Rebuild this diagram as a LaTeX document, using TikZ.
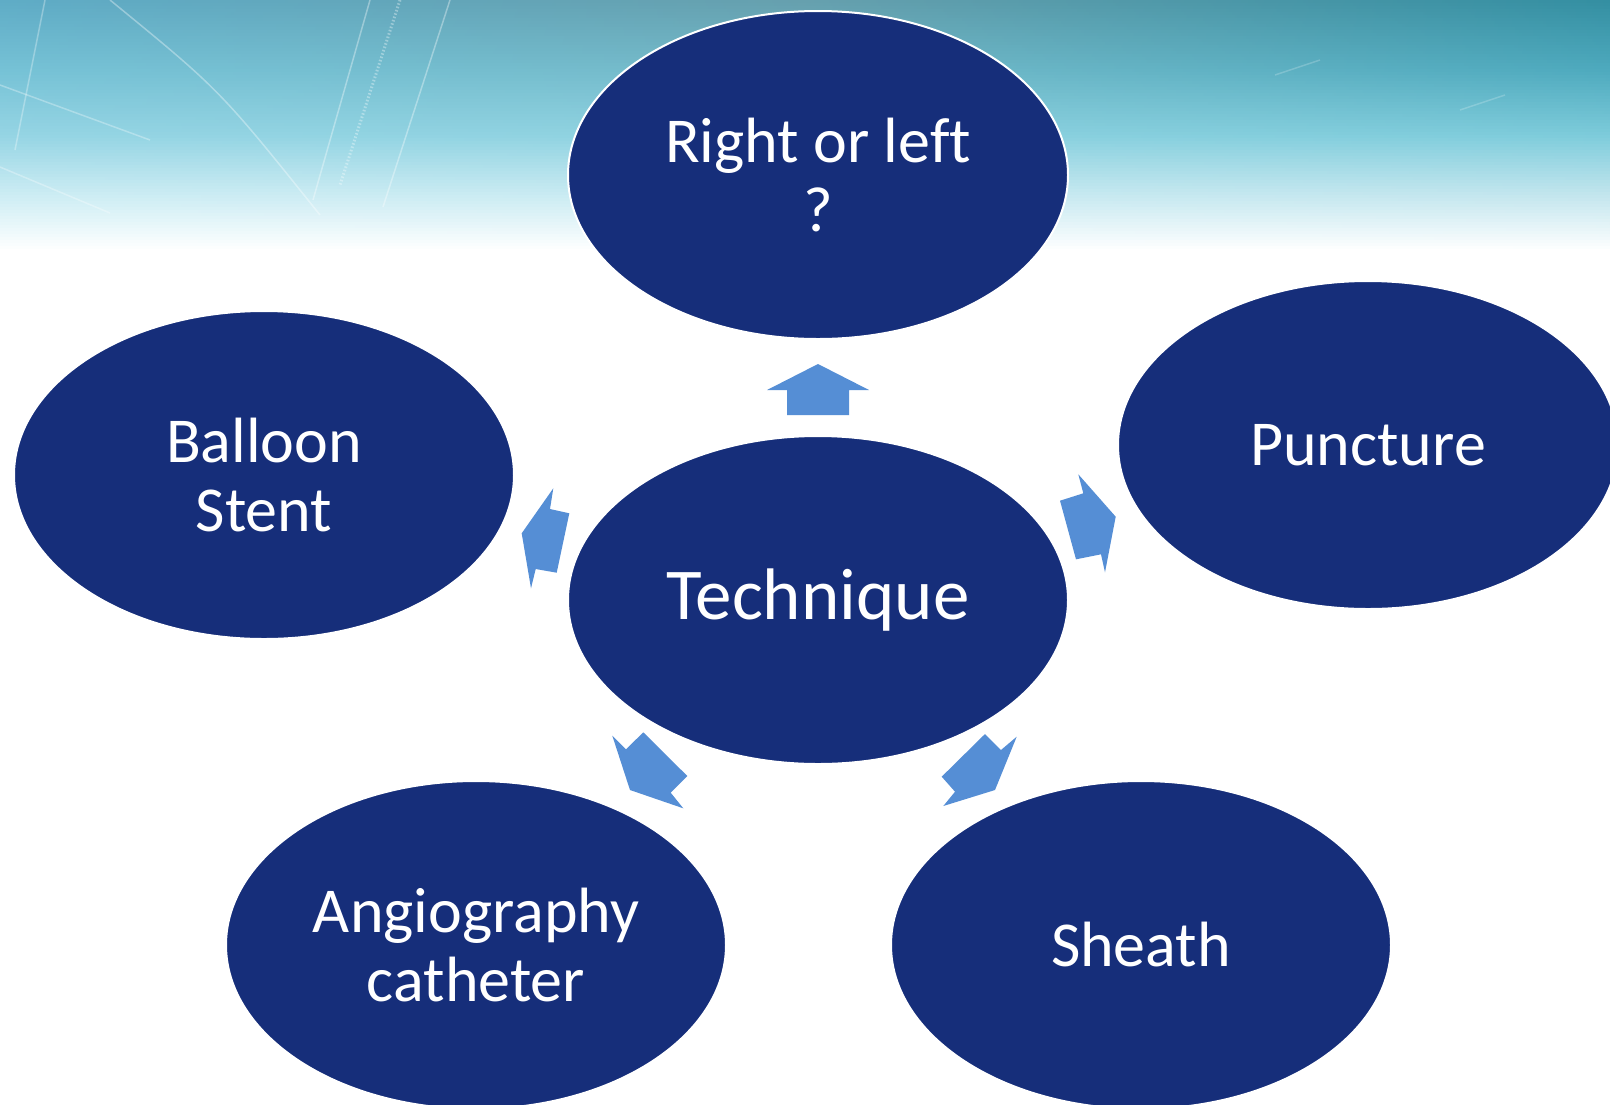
\documentclass[tikz,border=0pt]{standalone}
\usepackage{fontspec}
\setmainfont{Carlito}[Ligatures=NoCommon]
\usetikzlibrary{shapes.geometric}
\definecolor{navy}{RGB}{22,46,122}
\definecolor{arrowblue}{RGB}{85,142,213}
% band colours: rows a..e, columns L (left), M (middle), R (right)
\definecolor{aL}{RGB}{95,172,198}\definecolor{aM}{RGB}{102,160,174}\definecolor{aR}{RGB}{52,143,162}
\definecolor{bL}{RGB}{118,194,214}\definecolor{bM}{RGB}{116,186,201}\definecolor{bR}{RGB}{78,170,190}
\definecolor{cL}{RGB}{150,213,228}\definecolor{cM}{RGB}{142,210,224}\definecolor{cR}{RGB}{126,204,219}
\definecolor{dL}{RGB}{206,237,244}\definecolor{dM}{RGB}{202,235,242}\definecolor{dR}{RGB}{196,230,238}
\definecolor{eL}{RGB}{255,255,255}\definecolor{eM}{RGB}{255,255,255}\definecolor{eR}{RGB}{255,255,255}
\newcommand\myBandSeg[4]{%
  \pgfmathtruncatemacro\nsteps{(#2-#1)/3}%
  \foreach \k in {0,...,\nsteps}{%
    \pgfmathtruncatemacro\t{100*\k/\nsteps}%
    \colorlet{sL}{#4L!\t!#3L}\colorlet{sM}{#4M!\t!#3M}\colorlet{sR}{#4R!\t!#3R}%
    \pgfmathsetmacro\ya{#1+3*\k}%
    \fill[left color=sL, right color=sR, middle color=sM] (0,\ya) rectangle (1610,\ya+3.6);
  }}
\begin{document}
\begin{tikzpicture}[x=1pt,y=-1pt,
  bubble/.style={ellipse, fill=navy, draw=white, line width=2pt,
    minimum width=500pt, minimum height=328pt, inner sep=0pt,
    text=white, align=center, font=\fontsize{64}{69}\selectfont},
  blockarrow/.style={fill=arrowblue},
  streak/.style={white, line width=1.5pt, opacity=0.35}]
\useasboundingbox (0,0) rectangle (1610,1104);
\clip (0,0) rectangle (1610,1104);
\fill[white] (0,0) rectangle (1610,1104);
% background band
\myBandSeg{0}{69}{a}{b}
\myBandSeg{69}{135}{b}{c}
\myBandSeg{135}{195}{c}{d}
\myBandSeg{195}{249}{d}{e}
\draw[streak] (110,0) .. controls (220,90) .. (320,215);
\draw[streak] (370,0) -- (313,200);
\draw[streak] (450,0) -- (383,207);
\draw[streak, opacity=0.3] (0,167) -- (110,213);
\draw[streak, opacity=0.3] (0,85) -- (150,140);
\draw[streak, opacity=0.3] (45,0) -- (15,150);
\draw[streak, dotted, line width=3pt] (400,0) -- (340,185);
\draw[streak, opacity=0.2] (1275,75) -- (1320,60);
\draw[streak, opacity=0.2] (1460,110) -- (1505,95);
% ellipses
\node[bubble] (top) at (818,175) {Right or left\\?};
\node[bubble, font=\fontsize{73}{78}\selectfont] (center) at (818,600) {Technique};
\node[bubble] (left) at (264,475) {Balloon\\Stent};
\node[bubble] (right) at (1368,445) {Puncture};
\node[bubble] (bl) at (476,945) {Angiography\\catheter};
\node[bubble] (br) at (1141,945) {Sheath};
% block arrows
\fill[blockarrow] (818,364) -- (869,390) -- (849,390) -- (849,415) -- (787,415) -- (787,390) -- (767,390) -- cycle;
\fill[blockarrow] (521.7,533.3) -- (553.3,488.3) -- (550,509) -- (569.3,513.3) -- (556.7,572.7) -- (535.7,569) -- (531,588.3) -- cycle;
\fill[blockarrow] (1115.7,516.7) -- (1078.3,474.3) -- (1083.3,493.3) -- (1060,500.7) -- (1076,559.3) -- (1101,554.3) -- (1105,572.3) -- cycle;
\fill[blockarrow] (612.3,735.7) -- (626,749.3) -- (643.3,732.3) -- (687.3,776) -- (670.7,792.7) -- (683.3,808.3) -- (630,790) -- cycle;
\fill[blockarrow] (985,734) -- (1001,750) -- (1016.7,736.7) -- (995,790) -- (943.3,806) -- (955,791.7) -- (941.7,776.7) -- cycle;
\end{tikzpicture}
\end{document}
